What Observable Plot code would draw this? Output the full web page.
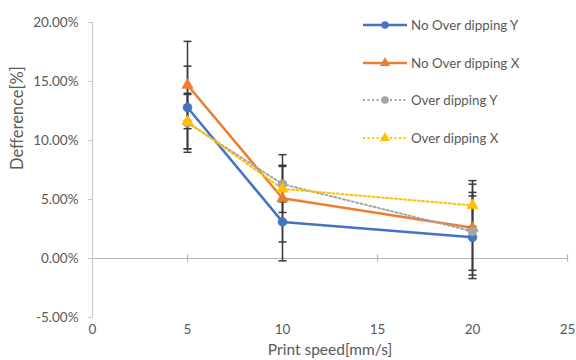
<!DOCTYPE html>
<html>
<head>
<meta charset="utf-8">
<script src="https://cdn.jsdelivr.net/npm/d3@7"></script>
<script src="https://cdn.jsdelivr.net/npm/@observablehq/plot@0.6"></script>
<style>
  html, body { margin: 0; padding: 0; background: #fff; }
  #wrap { position: relative; width: 576px; height: 360px; font-family: Lato, "Open Sans", sans-serif; color: #595959; }
  #legend { position: absolute; left: 362px; top: 17px; font-size: 13.3px; }
  .row { display: flex; align-items: center; height: 16px; margin-bottom: 21.5px; }
  .row span { margin-left: 3px; white-space: nowrap; }
</style>
</head>
<body>
<div id="wrap"></div>
<script>
// ---- data ----
const speeds = [5, 10, 20];
const seriesNames = ["No Over dipping Y", "No Over dipping X", "Over dipping Y", "Over dipping X"];
const noOverY = [12.8, 3.1, 1.8];
const noOverX = [14.7, 5.1, 2.6];
const overY = [11.5, 6.3, 2.3];
const overX = [11.6, 5.9, 4.5];
const errNoOverY = [3.5, 3.3, 3.5];
const errNoOverX = [3.7, 3.7, 4.0];
const errOverY = [2.5, 1.5, 3.3];
const errOverX = [2.3, 2.0, 1.8];
const xTicks = [0, 5, 10, 15, 20, 25];
const yTicks = [-5, 0, 5, 10, 15, 20];

// ---- styles ----
const colors = ["#4472C4", "#ED7D31", "#A5A5A5", "#FFC000"];
const symbols = ["circle", "triangle", "circle", "triangle"];
const dashes = [null, null, "2,2.5", "2,2.5"];
const widths = [2.5, 2.5, 2, 2];

const values = [noOverY, noOverX, overY, overX];
const errs = [errNoOverY, errNoOverX, errOverY, errOverX];
const rows = [];
seriesNames.forEach((s, i) => speeds.forEach((x, j) => rows.push({series: s, i, x, y: values[i][j], e: errs[i][j]})));

const capSymbol = {
  draw(ctx, size) { const r = Math.sqrt(size / Math.PI); ctx.moveTo(-r, 0); ctx.lineTo(r, 0); }
};

const marks = [
  Plot.ruleY([0], {x1: 0, x2: 25, stroke: "#b5b5b5", strokeWidth: 1.2}),
  Plot.ruleX([0], {y1: -5, y2: 20, stroke: "#c8c8c8", strokeWidth: 1.2}),
  Plot.ruleX(xTicks.filter(d => d > 0), {x: d => d, y1: -0.3, y2: 0.3, stroke: "#b5b5b5", strokeWidth: 1.2}),
  Plot.axisY({ticks: yTicks, tickFormat: d => d.toFixed(2) + "%", tickSize: 4, tickPadding: 10, stroke: "#c8c8c8", fill: "#595959", fontSize: 13.5, label: null}),
  Plot.axisX({ticks: xTicks, tickSize: 0, tickPadding: 7, fill: "#595959", fontSize: 13.5, label: null}),
  Plot.text(["Defference[%]"], {frameAnchor: "left", rotate: -90, dx: -75, dy: 0, fontSize: 16.5, fill: "#595959"}),
  Plot.text(["Print speed[mm/s]"], {frameAnchor: "bottom", dy: 37, fontSize: 15.5, fill: "#595959"})
];
// lines
seriesNames.forEach((s, i) => {
  marks.push(Plot.line(rows.filter(r => r.i === i), {x: "x", y: "y", stroke: colors[i], strokeWidth: widths[i], strokeDasharray: dashes[i]}));
});
// error bars
marks.push(Plot.ruleX(rows, {x: "x", y1: d => d.y - d.e, y2: d => d.y + d.e, stroke: "#3a3a3a", strokeWidth: 1.5}));
marks.push(Plot.dot(rows, {x: "x", y: d => d.y + d.e, symbol: capSymbol, r: 4, stroke: "#3a3a3a", strokeWidth: 1.5}));
marks.push(Plot.dot(rows, {x: "x", y: d => d.y - d.e, symbol: capSymbol, r: 4, stroke: "#3a3a3a", strokeWidth: 1.5}));
// markers
seriesNames.forEach((s, i) => {
  marks.push(Plot.dot(rows.filter(r => r.i === i), {x: "x", y: "y", symbol: symbols[i], r: symbols[i] === "circle" ? 4.5 : 4.3, fill: colors[i], stroke: colors[i], strokeWidth: 0.5}));
});

const chart = Plot.plot({
  width: 576,
  height: 360,
  marginLeft: 92,
  marginRight: 9,
  marginTop: 22,
  marginBottom: 43,
  style: {fontFamily: "Lato, 'Open Sans', sans-serif", color: "#595959", background: "#fff"},
  x: {domain: [0, 25]},
  y: {domain: [-5, 20]},
  marks
});
const wrap = document.getElementById("wrap");
wrap.appendChild(chart);

// legend
const legend = document.createElement("div");
legend.id = "legend";
seriesNames.forEach((s, i) => {
  const row = document.createElement("div");
  row.className = "row";
  const svg = d3.create("svg").attr("width", 46).attr("height", 14);
  svg.append("line").attr("x1", 1).attr("x2", 45).attr("y1", 7).attr("y2", 7)
    .attr("stroke", colors[i]).attr("stroke-width", widths[i]).attr("stroke-dasharray", dashes[i]);
  const sym = symbols[i] === "circle" ? d3.symbolCircle : d3.symbolTriangle;
  svg.append("path").attr("d", d3.symbol(sym, 45)()).attr("transform", "translate(23,7)").attr("fill", colors[i]);
  row.appendChild(svg.node());
  const t = document.createElement("span");
  t.textContent = s;
  row.appendChild(t);
  legend.appendChild(row);
});
wrap.appendChild(legend);
</script>
</body>
</html>
